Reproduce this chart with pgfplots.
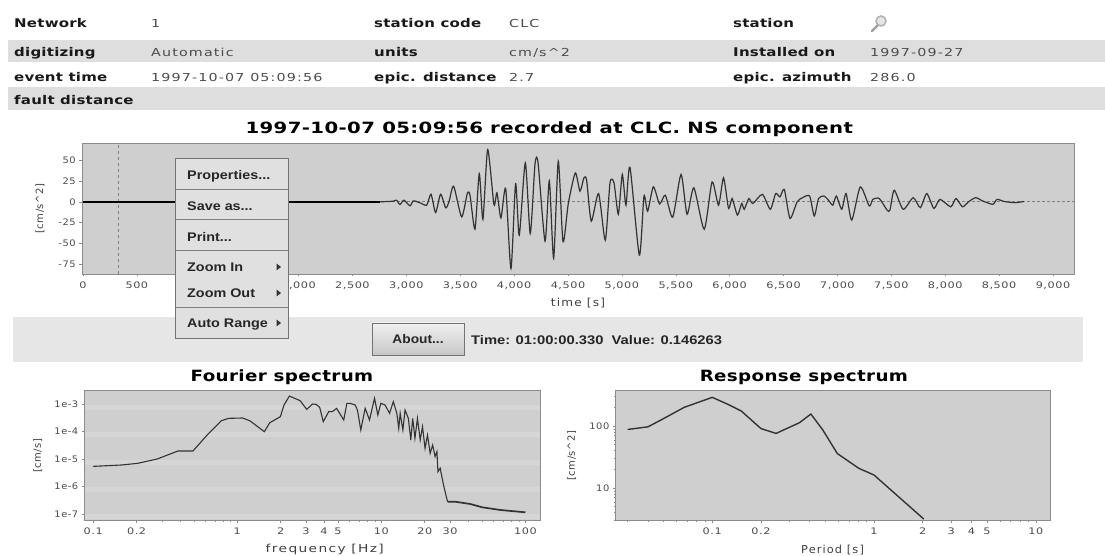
\documentclass[border=0pt]{standalone}
\usepackage{fontspec}
\usepackage{pgfplots}
\pgfplotsset{compat=1.18}
\setmainfont{DejaVu Sans}
\newfontfamily\menufont{Liberation Sans}
\definecolor{plotbg}{HTML}{CFCFCF}
\definecolor{bandbg}{HTML}{DEDEDE}
\definecolor{barbg}{HTML}{E6E6E6}
\definecolor{trace}{HTML}{333333}
\definecolor{framec}{HTML}{8C8C8C}
\newcommand{\lab}[1]{\scalebox{1.25}[1]{\fontsize{12}{13}\selectfont\bfseries\addfontfeature{LetterSpace=1.5}\color{black!90}#1}}
\newcommand{\val}[1]{\scalebox{1.3}[1]{\fontsize{11}{12}\selectfont\addfontfeature{LetterSpace=8}\color{black!70}#1}}
\newcommand{\menu}[2][1.15]{\scalebox{#1}[1]{\menufont\fontsize{12.5}{14}\selectfont\bfseries\color{black!85}#2}}
\pgfplotsset{
  common/.style={
    scale only axis,
    axis background/.style={fill=plotbg},
    axis line style={framec,line width=0.8pt},
    tick style={framec,line width=0.5pt},
    tick align=outside,
    major tick length=2.5pt,
    minor tick length=1.5pt,
    xtick pos=bottom, ytick pos=left,
    /pgf/number format/assume math mode=true,
    tick label style={font=\fontsize{9}{10}\selectfont\addfontfeature{LetterSpace=5},text=black!70},
    xticklabel style={xscale=1.25,transform shape,yshift=-1.5pt},
    yticklabel style={xscale=1.1,transform shape},
    xlabel style={font=\fontsize{11}{12}\selectfont\addfontfeature{LetterSpace=10},text=black!75},
    ylabel style={font=\fontsize{10}{11}\selectfont\addfontfeature{LetterSpace=5},text=black!75},
    every axis title/.append style={font=\fontsize{15.5}{17}\selectfont\bfseries\addfontfeature{LetterSpace=2},text=black,anchor=center,yshift=-8pt},
  },
}
\begin{document}
\begin{tikzpicture}[x=1pt,y=1pt]
\path[use as bounding box,fill=white] (0,0) rectangle (1105,556);
\fill[bandbg] (8,516) rectangle (1105,494);
\fill[bandbg] (8,469) rectangle (1105,446);
\fill[barbg] (13,239) rectangle (1083,194);
\node[anchor=base west,inner sep=0] at (14,528.5) {\lab{Network}};
\node[anchor=base west,inner sep=0] at (14,499.5) {\lab{digitizing}};
\node[anchor=base west,inner sep=0] at (14,474.5) {\lab{event time}};
\node[anchor=base west,inner sep=0] at (14,451.5) {\lab{fault distance}};
\node[anchor=base west,inner sep=0] at (151,528.5) {\val{1}};
\node[anchor=base west,inner sep=0] at (151,499.5) {\val{Automatic}};
\node[anchor=base west,inner sep=0] at (151,474.5) {\val{1997-10-07 05:09:56}};
\node[anchor=base west,inner sep=0] at (374,528.5) {\lab{station code}};
\node[anchor=base west,inner sep=0] at (374,499.5) {\lab{units}};
\node[anchor=base west,inner sep=0] at (374,474.5) {\lab{epic. distance}};
\node[anchor=base west,inner sep=0] at (509,528.5) {\val{CLC}};
\node[anchor=base west,inner sep=0] at (509,499.5) {\val{cm/s\^{}2}};
\node[anchor=base west,inner sep=0] at (509,474.5) {\val{2.7}};
\node[anchor=base west,inner sep=0] at (733,528.5) {\lab{station}};
\node[anchor=base west,inner sep=0] at (733,499.5) {\lab{Installed on}};
\node[anchor=base west,inner sep=0] at (733,474.5) {\lab{epic. azimuth}};
\node[anchor=base west,inner sep=0] at (870,499.5) {\val{1997-09-27}};
\node[anchor=base west,inner sep=0] at (870,474.5) {\val{286.0}};
% magnifier icon
\draw[black!30,line width=1.5pt,fill=black!10] (881,535) circle (5);
\draw[black!38,line width=2.4pt,line cap=round] (877.5,530.5) -- (872,525);

\begin{axis}[common,
  at={(82pt,282pt)},anchor=south west,width=992pt,height=130.7pt,
  xmin=-9,xmax=9195,ymin=-87,ymax=70.6,
  xtick={0,500,...,9000},
  xticklabels={0,500,,,{2,000},{2,500},{3,000},{3,500},{4,000},{4,500},{5,000},{5,500},{6,000},{6,500},{7,000},{7,500},{8,000},{8,500},{9,000}},
  ytick={-75,-50,-25,0,25,50},
  title={\scalebox{1.27}[1]{1997-10-07 05:09:56 recorded at CLC. NS component}},
  title style={at={(axis description cs:0.471,1.125)}},
  xlabel={time [s]},
  xlabel style={at={(axis description cs:0.5,-0.22)},anchor=center,xscale=1.1,transform shape},
  ylabel={[cm/s\^{}2]},
  ylabel style={at={(axis description cs:-0.0423,0.5)},anchor=center},
]
\addplot[black!50,dashed,line width=0.6pt] coordinates {(330,-87) (330,70.6)};
\addplot[black!50,densely dashed,line width=0.6pt] coordinates {(-9,0.146) (9195,0.146)};
\addplot[black,line width=1.8pt] coordinates {(0,0) (2756,0)};
\addplot[trace,line width=1.2pt,smooth,tension=0.4] coordinates {
(2756,0)(2879,0.8)(2910,2)(2941,-3.2)(2978,2)(3034,-4.8)(3065,1.2)(3127,-1.2)(3189,-4)
(3229,9.2)(3272,-12.9)(3318,9.2)(3365,-7.2)(3396,0)(3439,18.9)(3513,-18.1)(3566,10)(3591,8)
(3637,-32.9)(3677,34)(3711,-21)(3755,63)(3813,-3.2)(3841,10.9)(3878,-19.3)(3922,16)
(3971,-80.4)(4014,22)(4048,-40.2)(4104,47)(4150,-38.2)(4194,45.4)(4222,47.4)(4287,-47.4)
(4327,25.3)(4367,-68.2)(4410,49)(4454,-48.2)(4503,-2)(4568,34.8)(4611,12.9)(4648,28.9)
(4673,26)(4716,-23.3)(4784,10)(4846,-46.2)(4890,22.9)(4927,22.9)(4967,-14.9)(5004,33)
(5038,-4)(5075,41.8)(5162,-64.3)(5205,6.8)(5239,-11.3)(5292,18.1)(5350,-2.5)(5403,8)
(5472,-18.5)(5549,33)(5605,-15)(5668,17)(5764,-33)(5837,24)(5897,-4)(5943,29)(5990,-8)
(6023,4)(6072,-16)(6112,-2)(6135,-9)(6178,4)(6215,-2)(6304,9)(6377,-9)(6427,10)(6467,6)
(6507,15)(6560,-20)(6626,0)(6676,5)(6742,7)(6785,-17)(6825,4)(6874,7)(6917,2)(6957,-4)
(6990,7)(7040,-9)(7080,10)(7133,-22)(7212,18)(7295,-5)(7328,3)(7388,4)(7461,-10)(7487,-10)
(7527,14)(7610,-9)(7703,5)(7769,-7)(7829,10)(7895,-8)(7951,3)(8051,-6)(8100,4)(8160,-6)
(8216,0)(8282,5)(8349,1)(8442,-3)(8481,3)(8548,0.4)(8647,-1)(8730,0.4)};
\end{axis}

\begin{axis}[common,
  at={(84.6pt,35.3pt)},anchor=south west,width=455.8pt,height=130pt,
  xmode=log,ymode=log,log basis x=10,log basis y=10,
  xmin=0.0871,xmax=127,ymin=5.7e-8,ymax=3.05e-3,
  xtick={0.1,0.2,1,2,3,4,5,10,20,30,100},
  xticklabels={0.1,0.2,1,2,3,4,5,10,20,30,100},
  minor xtick={0.3,0.4,0.5,0.6,0.7,0.8,0.9,6,7,8,9,40,50,60,70,80,90},
  ytick={1e-7,1e-6,1e-5,1e-4,1e-3},
  yticklabels={1e-7,1e-6,1e-5,1e-4,1e-3},
  ymajorgrids,
  major grid style={white,opacity=0.16,line width=5pt,yshift=-3pt},
  title={\scalebox{1.18}[1]{Fourier spectrum}},
  title style={at={(axis description cs:0.433,1.12)}},
  xlabel={frequency [Hz]},
  xlabel style={at={(axis description cs:0.527,-0.225)},anchor=center,xscale=1.25,transform shape},
  ylabel={[cm/s]},
  ylabel style={at={(axis description cs:-0.103,0.5)},anchor=center},
]
\addplot[trace,line width=1.1pt] coordinates {
(0.100,5.4e-6)(0.157,6.05e-6)(0.203,6.95e-6)(0.278,1e-5)(0.387,1.95e-5)(0.492,1.95e-5)
(0.618,7.46e-5)(0.776,2.48e-4)(0.871,3.01e-4)(1.09,3.1e-4)(1.23,2.41e-4)(1.54,9.86e-5)
(1.68,2.09e-4)(1.99,3.46e-4)(2.11,9.2e-4)(2.30,1.95e-3)(2.73,1.32e-3)(3.03,6.4e-4)
(3.33,1e-3)(3.53,9.7e-4)(3.73,7.56e-4)(3.95,2.28e-4)(4.31,5.26e-4)(4.56,5.26e-4)
(4.89,6.95e-4)(5.48,2.62e-4)(5.76,1.06e-3)(6.07,1.06e-3)(6.58,9.2e-4)(6.82,6.05e-4)
(7.20,1.13e-4)(7.72,7.0e-4)(8.27,2.62e-4)(8.96,1.61e-3)(9.45,4.0e-4)(9.92,1.06e-3)
(10.6,9.2e-4)(11.4,4.6e-4)(12.1,1.22e-3)(12.8,4.6e-4)(13.2,1.3e-4)(13.5,4.6e-4)
(14.1,1.13e-4)(14.6,6.05e-4)(15.4,3.0e-4)(16.0,4.9e-5)(16.5,3.0e-4)(17.1,5.65e-5)
(17.8,3.0e-4)(18.6,4.9e-5)(19.3,1.5e-4)(20.1,2.44e-5)(20.9,7.46e-5)(21.8,1.61e-5)
(22.7,3.23e-5)(23.6,1.22e-5)(24.3,1.85e-5)(24.7,3.47e-6)(25.6,4.6e-6)(27.0,1.13e-6)
(28.8,2.8e-7)};
\addplot[trace,line width=1.7pt] coordinates {
(28.8,2.8e-7)(32.5,2.8e-7)(41.4,2.31e-7)(50.2,1.75e-7)(66.8,1.4e-7)(100,1.15e-7)};
\end{axis}

\begin{axis}[common,
  at={(615.7pt,35.3pt)},anchor=south west,width=434.6pt,height=130pt,
  xmode=log,ymode=log,log basis x=10,log basis y=10,
  xmin=0.0253,xmax=12.3,ymin=2.97,ymax=371.5,
  xtick={0.1,0.2,1,2,3,4,5,10},
  xticklabels={0.1,0.2,1,2,3,4,5,10},
  minor xtick={0.03,0.04,0.05,0.06,0.07,0.08,0.09,0.3,0.4,0.5,0.6,0.7,0.8,0.9,6,7,8,9},
  ytick={10,100},yticklabels={10,100},
  minor ytick={3,4,5,6,7,8,9,20,30,40,50,60,70,80,90,200,300},
  title={\scalebox{1.18}[1]{Response spectrum}},
  title style={at={(axis description cs:0.433,1.12)}},
  xlabel={Period [s]},
  xlabel style={at={(axis description cs:0.499,-0.225)},anchor=center,xscale=1.03,transform shape},
  ylabel={[cm/s\^{}2]},
  ylabel style={at={(axis description cs:-0.101,0.5)},anchor=center},
]
\addplot[trace,line width=1.4pt] coordinates {
(0.030,88)(0.040,97)(0.049,128)(0.067,200)(0.1,290)(0.124,226)(0.151,175)(0.2,91)
(0.248,76)(0.346,113)(0.407,156)(0.483,86)(0.593,36)(0.805,20.8)(1.0,16.2)(2.03,3.16)};
\end{axis}

% context menu
\fill[black!12,draw=black!55,line width=0.7pt] (175,398) rectangle (288.6,218);
\foreach \yy in {366.7,336,305.3,248.3}{\draw[black!50,line width=1pt] (175,\yy)--(288.6,\yy);}
\node[anchor=base west,inner sep=0] at (187,376.5) {\menu{Properties...}};
\node[anchor=base west,inner sep=0] at (187,345.5) {\menu{Save as...}};
\node[anchor=base west,inner sep=0] at (187,314.5) {\menu{Print...}};
\node[anchor=base west,inner sep=0] at (187,284.5) {\menu{Zoom In}};
\node[anchor=base west,inner sep=0] at (187,258.5) {\menu{Zoom Out}};
\node[anchor=base west,inner sep=0] at (187,228.5) {\menu{Auto Range}};
\foreach \yy in {289,263,233}{\fill[black!80] (276.5,\yy+3.5)--(281,\yy)--(276.5,\yy-3.5)--cycle;}
% button
\shade[top color=black!6,bottom color=black!22,draw=black!55,line width=0.7pt] (372,233) rectangle (464,201);
\node[inner sep=0] at (418,217) {\menu[1.1]{About...}};
\node[anchor=west,inner sep=0] at (471,216) {\menu[1.18]{Time: 01:00:00.330\ \ Value: 0.146263}};
\end{tikzpicture}
\end{document}
